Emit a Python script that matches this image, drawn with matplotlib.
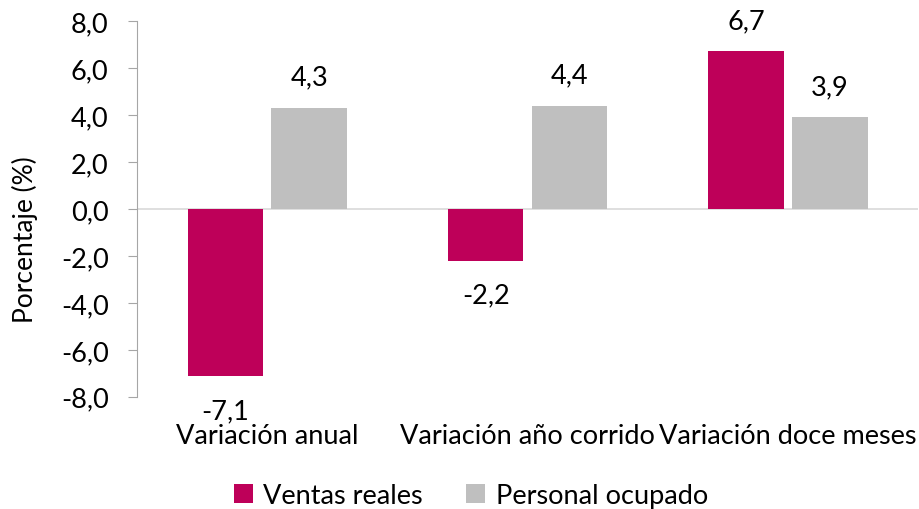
import numpy as np
import matplotlib.pyplot as plt

plt.rcParams['font.family'] = ['Lato', 'DejaVu Sans']

categorias = ['Variación anual', 'Variación año corrido', 'Variación doce meses']
ventas_reales = [-7.1, -2.2, 6.7]
personal_ocupado = [4.3, 4.4, 3.9]
yticks = np.arange(-8, 8.1, 2)

color_ventas = '#BE0059'
color_personal = '#BFBFBF'
fs = 19.5

fig = plt.figure(figsize=(9.2, 5.1), dpi=100)
ax = fig.add_axes([0.149, 0.22, 0.849, 0.737])

x = np.arange(len(categorias))
ancho = 0.29
sep = 0.016

b1 = ax.bar(x - ancho / 2 - sep, ventas_reales, ancho, color=color_ventas, label='Ventas reales', zorder=2)
b2 = ax.bar(x + ancho / 2 + sep, personal_ocupado, ancho, color=color_personal, label='Personal ocupado', zorder=2)

# etiquetas de datos
for barras in (b1, b2):
    for b in barras:
        v = b.get_height()
        xc = b.get_x() + b.get_width() / 2
        txt = f'{v:.1f}'.replace('.', ',')
        if v >= 0:
            ax.annotate(txt, (xc, v), xytext=(0, 13), textcoords='offset points',
                        ha='center', va='bottom', fontsize=fs)
        else:
            ax.annotate(txt, (xc, v), xytext=(0, -16), textcoords='offset points',
                        ha='center', va='top', fontsize=fs)

ax.set_xlim(-0.5, 2.5)
ax.set_ylim(-8, 8)
ax.set_yticks(yticks)
ax.set_yticklabels([f'{t:.1f}'.replace('.', ',') for t in yticks], fontsize=fs)
ax.set_xticks(x)
ax.set_xticklabels(categorias, fontsize=fs)
ax.tick_params(axis='x', length=0, pad=19)
ax.tick_params(axis='y', length=6.5, color='#A6A6A6', pad=14)

for s in ['top', 'right', 'bottom']:
    ax.spines[s].set_visible(False)
ax.spines['left'].set_color('#A6A6A6')
ax.axhline(0, color='#D9D9D9', linewidth=1.2, zorder=1)

# título del eje y
fig.text(25 / 920, 1 - 240 / 510, 'Porcentaje (%)', rotation=90, ha='center', va='center', fontsize=19)

fig.legend(loc='lower center', bbox_to_anchor=(0.512, -0.045), ncol=2, frameon=False,
           fontsize=fs, handlelength=0.7, handleheight=0.7, columnspacing=1.6, handletextpad=0.4)

fig.savefig('out.png', dpi=100)
